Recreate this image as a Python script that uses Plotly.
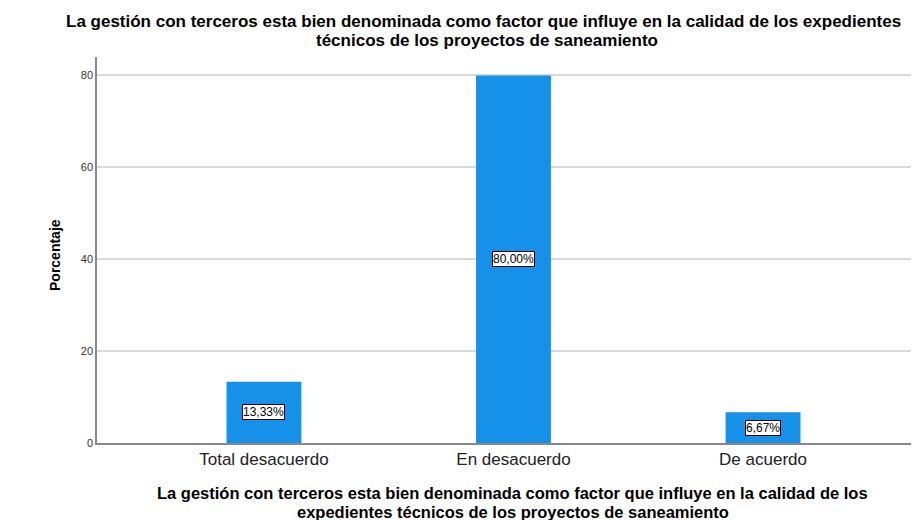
import plotly.graph_objects as go

categorias = ["Total desacuerdo", "En desacuerdo", "De acuerdo"]
porcentajes = [13.33, 80.00, 6.67]
etiquetas = ["13,33%", "80,00%", "6,67%"]

titulo = [
    "La gestión con terceros esta bien denominada como factor que influye en la calidad de los expedientes",
    "técnicos de los proyectos de saneamiento",
]
titulo_x = [
    "La gestión con terceros esta bien denominada como factor que influye en la calidad de los",
    "expedientes técnicos de los proyectos de saneamiento",
]

FUENTE = "Liberation Sans, Arial"

fig = go.Figure(
    go.Bar(x=categorias, y=porcentajes, width=0.3, marker_color="#1591EA", marker_line_width=0)
)

# etiquetas dentro de la barra, en el centro
for cat, val, txt in zip(categorias, porcentajes, etiquetas):
    fig.add_annotation(
        x=cat, y=val / 2, text=txt, showarrow=False,
        font=dict(size=12, color="black", family=FUENTE),
        bgcolor="white", bordercolor="black", borderwidth=1, borderpad=0,
    )

# titulo superior (dos lineas)
for linea, yy, xx in zip(titulo, [1.0907, 1.044], [0.4708, 0.4745]):
    fig.add_annotation(
        text="<b>" + linea + "</b>", xref="paper", yref="paper", x=xx, y=yy,
        xanchor="center", yanchor="middle", showarrow=False,
        font=dict(size=17, color="black", family=FUENTE),
    )

# titulo del eje x (dos lineas)
for linea, yy in zip(titulo_x, [-0.1295, -0.1788]):
    fig.add_annotation(
        text="<b>" + linea + "</b>", xref="paper", yref="paper", x=0.506, y=yy,
        xanchor="center", yanchor="middle", showarrow=False,
        font=dict(size=16.5, color="black", family=FUENTE),
    )

# titulo del eje y
fig.add_annotation(
    text="<b>Porcentaje</b>", xref="paper", yref="paper", x=-0.0511, y=0.487,
    xanchor="center", yanchor="middle", textangle=-90, showarrow=False,
    font=dict(size=14, color="black", family=FUENTE),
)

fig.update_layout(
    width=919,
    height=520,
    paper_bgcolor="white",
    plot_bgcolor="white",
    font=dict(family=FUENTE, color="black"),
    margin=dict(l=89, r=8, t=49, b=85),
    showlegend=False,
    xaxis=dict(
        range=[-0.669, 2.625],
        showline=True, linecolor="#888888", linewidth=1.5,
        tickfont=dict(size=17, color="#222222"),
        ticks="", showgrid=False,
    ),
    yaxis=dict(
        range=[0, 84],
        tickvals=[0, 20, 40, 60, 80],
        showline=True, linecolor="#888888", linewidth=1.5,
        gridcolor="#d9d9d9", gridwidth=1.5,
        tickfont=dict(size=11, color="#333333"),
        ticks="", zeroline=False,
    ),
)

fig.write_html("out.html")
